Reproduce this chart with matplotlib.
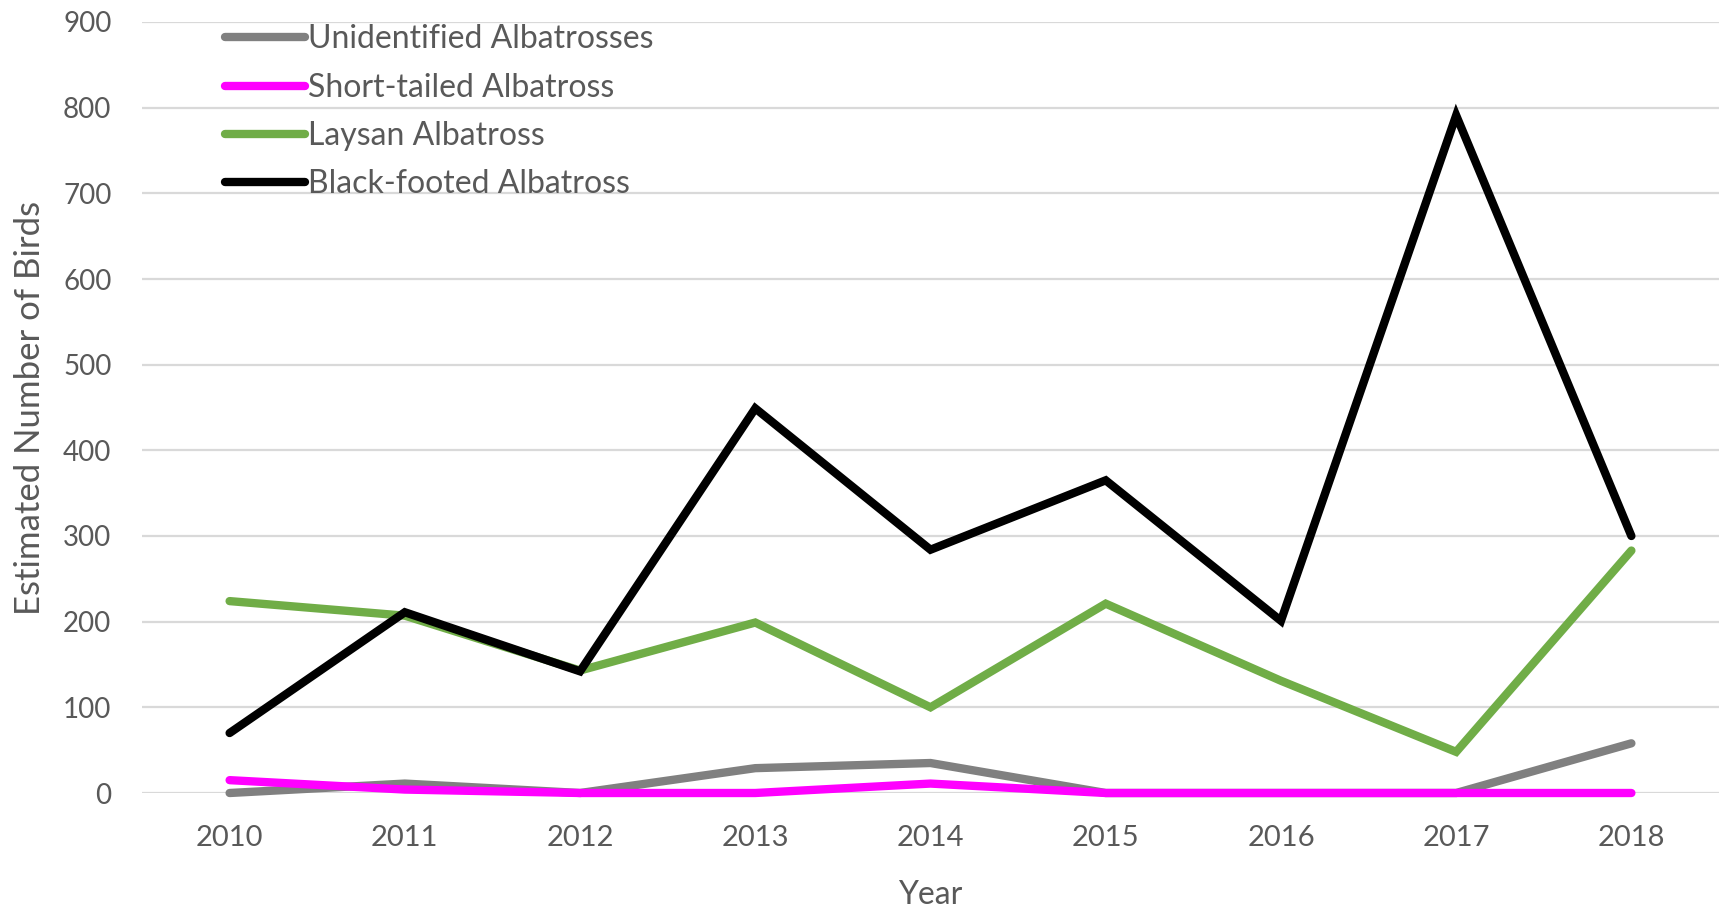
import matplotlib
matplotlib.use("Agg")
import matplotlib.pyplot as plt

# data
years = [2010, 2011, 2012, 2013, 2014, 2015, 2016, 2017, 2018]
unidentified = [0, 11, 0, 29, 35, 0, 0, 0, 58]
short_tailed = [15, 4, 0, 0, 11, 0, 0, 0, 0]
laysan = [224, 207, 143, 199, 100, 221, 131, 48, 283]
black_footed = [70, 211, 142, 449, 284, 365, 201, 791, 300]

series_names = ["Unidentified Albatrosses", "Short-tailed Albatross",
                "Laysan Albatross", "Black-footed Albatross"]
series_colors = ["#808080", "#ff00ff", "#70ad47", "#000000"]

plt.rcParams['font.family'] = ['Lato', 'DejaVu Sans']
text_color = "#595959"

W, H = 1721, 908
fig = plt.figure(figsize=(W / 100, H / 100), dpi=100)
# axes box in pixels: left 142, right 1719, top 22, bottom 793
ax = fig.add_axes([142 / W, (H - 793) / H, (1719 - 142) / W, (793 - 22) / H])

for name, vals, col in zip(series_names,
                           [unidentified, short_tailed, laysan, black_footed],
                           series_colors):
    ax.plot(years, vals, color=col, linewidth=6, label=name,
            solid_capstyle='round', solid_joinstyle='miter', clip_on=False)

ax.set_ylim(0, 900)
ax.set_yticks(range(0, 901, 100))
ax.set_xlim(2010 - 0.5, 2018 + 0.5)
ax.set_xticks(years)
ax.grid(axis='y', color="#d9d9d9", linewidth=1.6)
ax.set_axisbelow(True)
for s in ax.spines.values():
    s.set_visible(False)
ax.tick_params(length=0, labelsize=20, colors=text_color)
ax.tick_params(axis='x', labelsize=21, pad=23)
ax.tick_params(axis='y', pad=22)

ax.set_xlabel("Year", fontsize=23, color=text_color, labelpad=21)
ax.set_ylabel("Estimated Number of Birds", fontsize=25, color=text_color,
              labelpad=12)

leg = ax.legend(loc='upper left', bbox_to_anchor=(83 / 1577, 0.997),
                frameon=False, fontsize=23, handlelength=2.5,
                handletextpad=0.1, labelspacing=0.575, borderaxespad=0.0,
                borderpad=0.0)
for t in leg.get_texts():
    t.set_color(text_color)

fig.savefig("out.png", dpi=100)
